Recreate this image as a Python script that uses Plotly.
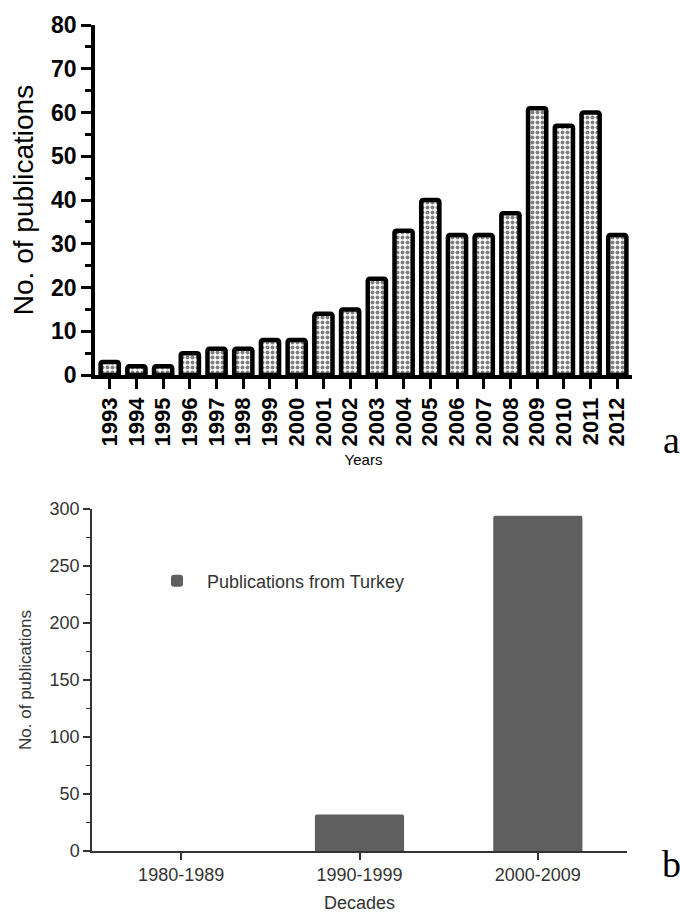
import plotly.graph_objects as go

years = [str(y) for y in range(1993, 2013)]
pubs_year = [3, 2, 2, 5, 6, 6, 8, 8, 14, 15, 22, 33, 40, 32, 32, 37, 61, 57, 60, 32]

decades = ["1980-1989", "1990-1999", "2000-2009"]
pubs_decade = [0, 32, 294]

y_ticks_a = list(range(0, 81, 10))
y_ticks_b = list(range(0, 301, 50))

FONT = "Arial, 'Liberation Sans', sans-serif"
SERIF = "'Times New Roman', 'Liberation Serif', 'DejaVu Serif', serif"
GREY = "#333333"

fig = go.Figure()

fig.add_trace(go.Bar(
    x=years, y=pubs_year, xaxis="x", yaxis="y", width=0.68,
    marker=dict(color="white",
                pattern=dict(shape=".", fgcolor="black", bgcolor="white", size=5, solidity=0.5),
                line=dict(color="black", width=4.5)),
    showlegend=False,
))

fig.add_trace(go.Bar(
    x=decades, y=pubs_decade, xaxis="x2", yaxis="y2", width=0.5,
    marker=dict(color="#5f5f5f", line=dict(width=0)),
    name="Publications from Turkey", showlegend=True,
))

fig.update_layout(
    width=680, height=913,
    margin=dict(l=0, r=0, t=0, b=0, pad=0, autoexpand=False),
    paper_bgcolor="white", plot_bgcolor="white",
    font=dict(family=FONT, color="black"),
    barcornerradius=2,
    xaxis=dict(
        domain=[95/680, 632/680], anchor="y", range=[-0.55, 19.55],
        tickmode="linear", tick0=0, dtick=1, automargin=False,
        showline=True, linecolor="black", linewidth=3.5,
        ticks="outside", ticklen=10, tickwidth=3, tickcolor="black",
        tickangle=-90, tickfont=dict(size=22, family=FONT, weight="bold"),
        title=dict(text="Years", font=dict(size=15), standoff=10),
        showgrid=False, zeroline=False, fixedrange=True,
    ),
    yaxis=dict(
        domain=[1-375/913, 1-25/913], anchor="x", range=[0, 80],
        tickvals=y_ticks_a, automargin=False,
        showline=True, linecolor="black", linewidth=3.5,
        ticks="outside", ticklen=10, tickwidth=3, tickcolor="black",
        minor=dict(dtick=5, ticks="outside", ticklen=6, tickwidth=2.5, tickcolor="black"),
        tickfont=dict(size=23, family=FONT, weight="bold"),
        title=dict(text="No. of publications", font=dict(size=28), standoff=10),
        showgrid=False, zeroline=False, fixedrange=True,
    ),
    xaxis2=dict(
        domain=[92/680, 627/680], anchor="y2", range=[-0.5, 2.5], automargin=False,
        showline=True, linecolor=GREY, linewidth=1.5,
        ticks="outside", ticklen=7, tickwidth=1.5, tickcolor=GREY,
        tickfont=dict(size=18, color=GREY),
        title=dict(text="Decades", font=dict(size=18, color=GREY), standoff=12),
        showgrid=False, zeroline=False, fixedrange=True,
    ),
    yaxis2=dict(
        domain=[1-851/913, 1-509/913], anchor="x2", range=[0, 300],
        tickvals=y_ticks_b, automargin=False,
        showline=True, linecolor=GREY, linewidth=1.5,
        ticks="outside", ticklen=7, tickwidth=1.5, tickcolor=GREY,
        minor=dict(dtick=25, ticks="outside", ticklen=4, tickwidth=1, tickcolor=GREY),
        tickfont=dict(size=18, color=GREY),
        title=dict(text="No. of publications", font=dict(size=17, color=GREY), standoff=14),
        showgrid=False, zeroline=False, fixedrange=True,
    ),
    legend=dict(
        x=147/680, y=1-581/913, xanchor="left", yanchor="middle",
        bgcolor="rgba(0,0,0,0)", font=dict(size=18, color=GREY),
        itemwidth=50,
    ),
    annotations=[
        dict(text="a", xref="paper", yref="paper", x=671/680, y=1-440/913,
             xanchor="center", yanchor="middle",
             showarrow=False, font=dict(family=SERIF, size=38, color="black")),
        dict(text="b", xref="paper", yref="paper", x=671/680, y=1-864/913,
             xanchor="center", yanchor="middle",
             showarrow=False, font=dict(family=SERIF, size=38, color="black")),
    ],
)

fig.write_html(
    "out.html",
    config={"displayModeBar": False},
    post_script="document.body.style.margin='0px';document.body.style.overflow='hidden';",
)
